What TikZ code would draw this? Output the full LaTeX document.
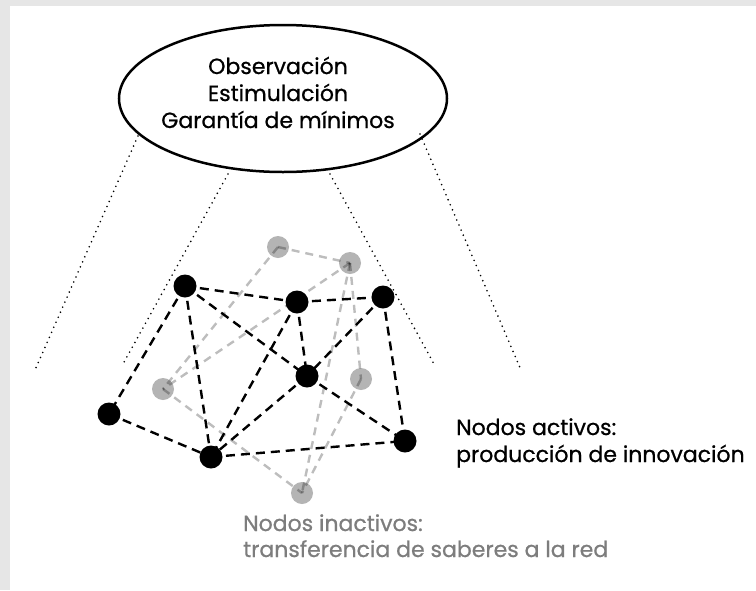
\documentclass[tikz,border=0pt]{standalone}
\usepackage{fontspec}
\setmainfont{Poppins}[FakeBold=0.7]
\usetikzlibrary{shapes.geometric}
\definecolor{bandgray}{HTML}{E6E6E6}
\definecolor{inactfill}{HTML}{B4B4B4}
\definecolor{inacttext}{HTML}{7D7D7D}
\begin{document}
\begin{tikzpicture}[x=1pt,y=-1pt,
  act/.style={circle,fill=black,minimum size=23pt,inner sep=0pt},
  inact/.style={circle,fill=inactfill,minimum size=22pt,inner sep=0pt},
  actedge/.style={line width=2.4pt,black,dash pattern=on 9pt off 6pt},
  inactedge/.style={line width=2.4pt,black,opacity=0.26,dash pattern=on 8pt off 6pt},
  fan/.style={line width=1.8pt,line cap=round,dash pattern=on 0pt off 5.5pt},
  txt/.style={font=\fontsize{22}{27}\selectfont,inner sep=0pt},
  ]
\fill[bandgray] (0,0) rectangle (756,590);
\fill[white] (10,6) rectangle (756,590);
\useasboundingbox (0,0) rectangle (756,590);

% cloud ellipse
\node[ellipse,draw,line width=2.5pt,minimum width=328pt,minimum height=147pt,inner sep=0pt] (cloud) at (283,98.5) {};
\node[txt,anchor=base] (obs1) at (278,74) {Observación};
\node[txt,anchor=base] (obs2) at (278,101) {Estimulación};
\node[txt,anchor=base] (obs3) at (278,128) {Garantía de mínimos};

% fan of dotted lines
\coordinate (f1a) at (138,136); \coordinate (f1b) at (35,370);
\coordinate (f2a) at (228,174); \coordinate (f2b) at (123,364);
\coordinate (f3a) at (330,174); \coordinate (f3b) at (434,364);
\coordinate (f4a) at (420,134); \coordinate (f4b) at (521,370);
\draw[fan] (f1a) -- (f1b);
\draw[fan] (f2a) -- (f2b);
\draw[fan] (f3a) -- (f3b);
\draw[fan] (f4a) -- (f4b);

% inactive nodes
\node[inact] (g1) at (278,247) {};
\node[inact] (g2) at (350,263) {};
\node[inact] (g3) at (163,389) {};
\node[inact] (g4) at (361,379) {};
\node[inact] (g5) at (302,493) {};

\draw[inactedge] (g1.center) -- (g2.center);
\draw[inactedge] (g1.center) -- (g3.center);
\draw[inactedge] (g2.center) -- (g3.center);
\draw[inactedge] (g2.center) -- (g4.center);
\draw[inactedge] (g2.center) -- (g5.center);
\draw[inactedge] (g3.center) -- (g5.center);
\draw[inactedge] (g4.center) -- (g5.center);

% active nodes
\coordinate (A) at (185,286);
\coordinate (B) at (297,302);
\coordinate (C) at (383,297);
\coordinate (D) at (307,376);
\coordinate (E) at (109,414);
\coordinate (F) at (211,457);
\coordinate (G) at (405,441);

\draw[actedge] (A) -- (B);
\draw[actedge] (A) -- (E);
\draw[actedge] (A) -- (F);
\draw[actedge] (A) -- (D);
\draw[actedge] (B) -- (C);
\draw[actedge] (B) -- (D);
\draw[actedge] (B) -- (F);
\draw[actedge] (C) -- (D);
\draw[actedge] (C) -- (G);
\draw[actedge] (D) -- (F);
\draw[actedge] (D) -- (G);
\draw[actedge] (E) -- (F);
\draw[actedge] (F) -- (G);

\node[act] (nA) at (A) {};
\node[act] (nB) at (B) {};
\node[act] (nC) at (C) {};
\node[act] (nD) at (D) {};
\node[act] (nE) at (E) {};
\node[act] (nF) at (F) {};
\node[act] (nG) at (G) {};

% labels
\node[txt,anchor=base west] (act1) at (456,435) {Nodos activos:};
\node[txt,anchor=base west] (act2) at (456,462) {producción de innovación};
\node[txt,anchor=base west,text=inacttext] (ina1) at (243,531) {Nodos inactivos:};
\node[txt,anchor=base west,text=inacttext] (ina2) at (243,557) {transferencia de saberes a la red};
\end{tikzpicture}
\end{document}
